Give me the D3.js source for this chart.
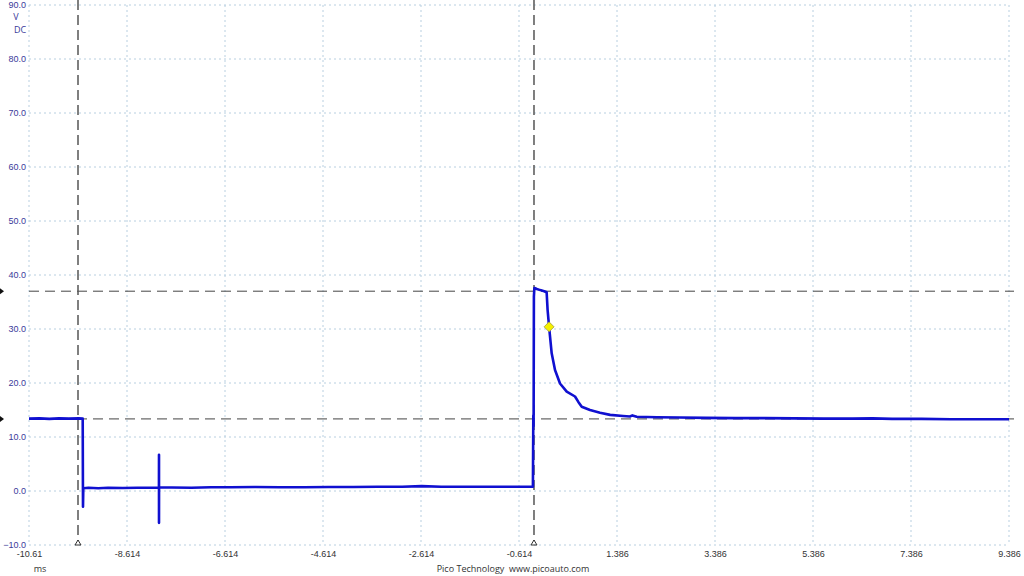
<!DOCTYPE html>
<html><head><meta charset="utf-8">
<script src="https://cdn.jsdelivr.net/npm/d3@7"></script>
<style>body{margin:0;background:#fff;}svg{display:block;font-family:"Open Sans","DejaVu Sans",sans-serif;}</style>
</head><body>
<svg id="c" width="1024" height="576"></svg>
<script>
// Data (time in ms, voltage in V)
const timeMs = [-10.614,-10.4,-10.2,-10.0,-9.8,-9.6,-9.518,-9.512,-9.506,-9.5,-9.4,-9.2,-9.0,-8.7,-8.4,-8.1,-7.962,-7.961,-7.961,-7.96,-7.7,-7.3,-6.9,-6.5,-6.0,-5.5,-5.0,-4.5,-4.0,-3.5,-3.0,-2.6,-2.2,-1.8,-1.4,-1.0,-0.6,-0.33,-0.322,-0.316,-0.31,-0.3,-0.25,-0.18,-0.1,-0.05,-0.03,0.0,0.053,0.121,0.223,0.36,0.529,0.597,0.666,0.835,1.04,1.246,1.51,1.65,1.7,1.788,2.2,2.67,3.2,3.8,4.4,5.0,5.6,6.2,6.6,7.0,7.6,8.2,8.8,9.386];
const volts  = [13.4,13.45,13.35,13.45,13.4,13.45,13.4,-2.9,0.4,0.5,0.6,0.5,0.6,0.55,0.6,0.6,0.6,6.7,-5.9,0.7,0.65,0.6,0.7,0.7,0.75,0.7,0.7,0.75,0.75,0.8,0.8,0.9,0.8,0.8,0.8,0.8,0.8,0.8,14.0,12.0,36.0,37.6,37.4,37.2,37.0,36.8,33.5,30.4,25.5,22.4,19.9,18.4,17.5,16.5,15.6,15.0,14.5,14.1,13.9,13.8,14.0,13.75,13.65,13.6,13.55,13.5,13.5,13.45,13.4,13.4,13.45,13.35,13.35,13.3,13.3,13.3];
const yTicks = [90,80,70,60,50,40,30,20,10,0,-10];
const xTicks = [-10.614,-8.614,-6.614,-4.614,-2.614,-0.614,1.386,3.386,5.386,7.386,9.386];
const xTickLabels = ["-10.61","-8.614","-6.614","-4.614","-2.614","-0.614","1.386","3.386","5.386","7.386","9.386"];
const cursorTimes = [-9.614,-0.308];
const rulerVolts = [37.0,13.35];
const triggerPoint = [0.0,30.4];

const svg = d3.select("#c");
const L=29,R=1009,T=5,B=545;
const x = d3.scaleLinear().domain([-10.614,9.386]).range([L,R]);
const y = d3.scaleLinear().domain([-10,90]).range([B,T]);

// grid
const g = svg.append("g");
g.selectAll(".gx").data(xTicks).join("line")
 .attr("x1",d=>x(d)).attr("x2",d=>x(d)).attr("y1",T).attr("y2",B)
 .attr("stroke","#b8cfe0").attr("stroke-dasharray","2,3").attr("stroke-width",1);
g.selectAll(".gy").data(yTicks).join("line")
 .attr("x1",L).attr("x2",R).attr("y1",d=>y(d)).attr("y2",d=>y(d))
 .attr("stroke","#b8cfe0").attr("stroke-dasharray","2,3").attr("stroke-width",1);

// y axis labels
const yAxis = d3.axisLeft(y).tickValues(yTicks).tickSize(0).tickPadding(3).tickFormat(d3.format(".1f"));
const ya = svg.append("g").attr("transform",`translate(${L},0)`).call(yAxis);
ya.select(".domain").remove();
ya.selectAll("text").attr("fill","#3a3a9a").style("font-size","9px");
svg.append("text").attr("x",16).attr("y",20).attr("text-anchor","middle").attr("fill","#3a3a9a").style("font-size","9px").text("V");
svg.append("text").attr("x",20).attr("y",33).attr("text-anchor","middle").attr("fill","#3a3a9a").style("font-size","9px").text("DC");

// x axis labels
const xAxis = d3.axisBottom(x).tickValues(xTicks).tickSize(0).tickPadding(6).tickFormat((d,i)=>xTickLabels[i]);
const xa = svg.append("g").attr("transform",`translate(0,${B})`).call(xAxis);
xa.select(".domain").remove();
xa.selectAll("text").attr("fill","#333").style("font-size","9px");
svg.append("text").attr("x",40).attr("y",572).attr("text-anchor","middle").attr("fill","#333").style("font-size","9px").text("ms");
svg.append("text").attr("x",513).attr("y",572).attr("text-anchor","middle").attr("fill","#333").style("font-size","9px").attr("xml:space","preserve").text("Pico Technology  www.picoauto.com");

// rulers
svg.selectAll(".rul").data(rulerVolts).join("line")
 .attr("x1",L).attr("x2",R+5).attr("y1",d=>y(d)).attr("y2",d=>y(d))
 .attr("stroke","#444").attr("stroke-dasharray","10,6").attr("stroke-width",1);
svg.selectAll(".rulm").data(rulerVolts).join("path")
 .attr("d",d=>`M0,${y(d)-3}L4,${y(d)}L0,${y(d)+3}Z`).attr("fill","#111");

// cursors
svg.selectAll(".cur").data(cursorTimes).join("line")
 .attr("x1",d=>x(d)).attr("x2",d=>x(d)).attr("y1",0).attr("y2",B-4)
 .attr("stroke","#555").attr("stroke-dasharray","10,5").attr("stroke-width",1.5);
svg.selectAll(".curm").data(cursorTimes).join("path")
 .attr("d",d=>`M${x(d)},${B-5}L${x(d)-3},${B}L${x(d)+3},${B}Z`).attr("fill","none").attr("stroke","#333").attr("stroke-width",1);

// trace
const pts = timeMs.map((t,i)=>[t,volts[i]]);
svg.append("path").datum(pts)
 .attr("d",d3.line().x(d=>x(d[0])).y(d=>y(d[1])))
 .attr("fill","none").attr("stroke","#1010d0").attr("stroke-width",2.6).attr("stroke-linejoin","round");

// trigger diamond
const tx=x(triggerPoint[0]), ty=y(triggerPoint[1]);
svg.append("path").attr("d",`M${tx},${ty-5}L${tx+5},${ty}L${tx},${ty+5}L${tx-5},${ty}Z`)
 .attr("fill","#f5f000").attr("stroke","#a09a40").attr("stroke-width",0.8);
</script>
</body></html>
